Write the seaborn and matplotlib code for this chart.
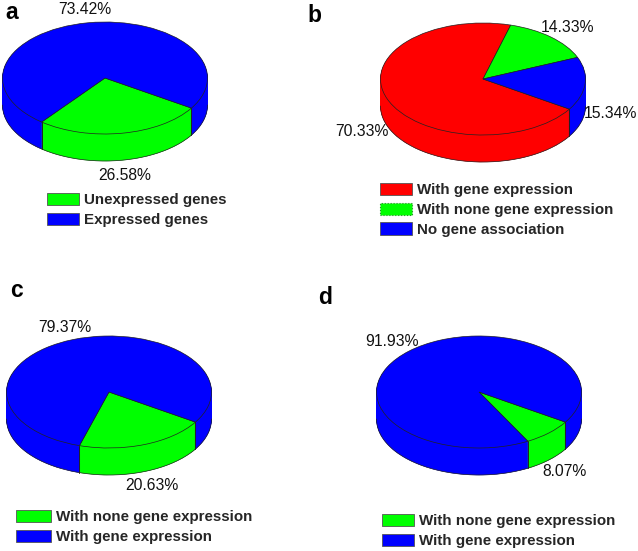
import numpy as np
import matplotlib
matplotlib.use("Agg")
import matplotlib.pyplot as plt
from matplotlib.patches import Patch
import seaborn as sns

# === data ===
values_a = [26.58, 73.42]
values_b = [70.33, 14.33, 15.34]
values_c = [20.63, 79.37]
values_d = [8.07, 91.93]

labels_a = ["Unexpressed genes", "Expressed genes"]
labels_b = ["With gene expression", "With none gene expression", "No gene association"]
labels_c = ["With none gene expression", "With gene expression"]
labels_d = ["With none gene expression", "With gene expression"]

pct_a = ["26.58%", "73.42%"]
pct_b = ["70.33%", "14.33%", "15.34%"]
pct_c = ["20.63%", "79.37%"]
pct_d = ["8.07%", "91.93%"]

RED, GREEN, BLUE = sns.color_palette(["#ff0000", "#00ff00", "#0000ff"])
W, H = 638, 551

sns.set_theme(style="white")
plt.rcParams["font.family"] = ["Liberation Sans", "DejaVu Sans"]

fig = plt.figure(figsize=(W / 100, H / 100), dpi=100, facecolor="white")


def px(x, y):
    return x / W, 1 - y / H


def pie3d(values, colors, cx, cy, rx=102.5, ry=56, depth=27, start=-32.5):
    # the axes is stretched so one data unit is rx wide and ry tall
    d = depth / ry
    left, bottom = px(cx - rx, cy + ry + depth)
    ax = fig.add_axes([left, bottom, 2 * rx / W, (2 * ry + depth) / H])
    # side wall: same pie stacked downwards
    for off in np.linspace(d, 0, 40)[:-1]:
        wedges, _ = ax.pie(values, colors=colors, startangle=start, counterclock=False,
                           center=(0, -off), radius=1, wedgeprops={"linewidth": 0.3})
        for w in wedges:
            w.set_edgecolor(w.get_facecolor())
    th = np.radians(np.linspace(180, 360, 200))
    ax.plot(np.cos(th), np.sin(th) - d, color="#222222", lw=0.5)
    top, _ = ax.pie(values, colors=colors, startangle=start, counterclock=False,
                    radius=1, wedgeprops={"linewidth": 0.5, "edgecolor": "#222222"})
    # vertical edges where slices meet on the front side
    for wedge in top:
        a = np.radians(wedge.theta1)
        if np.sin(a) < 0:
            ax.plot([np.cos(a)] * 2, [np.sin(a), np.sin(a) - d], color="#222222", lw=0.7, zorder=5)
    ax.set_aspect("auto")
    ax.set_xlim(-1, 1)
    ax.set_ylim(-1 - d, 1)
    ax.axis("off")
    for a_ in ax.lines + ax.patches:
        a_.set_clip_on(False)


def legend3d(labels, colors, x, y, dashed=None, hlen=2.12):
    handles = []
    for i, (lab, col) in enumerate(zip(labels, colors)):
        if i == dashed:
            handles.append(Patch(facecolor=col, edgecolor="#2a8a2a", linestyle=":", linewidth=0.8, label=lab))
        else:
            handles.append(Patch(facecolor=col, edgecolor="#555555", linewidth=0.6, label=lab))
    fig.legend(handles=handles, loc="upper left", bbox_to_anchor=px(x, y), frameon=False,
               prop={"family": "Liberation Sans", "weight": "bold", "size": 10.9},
               handlelength=hlen, handleheight=0.85, handletextpad=0.33,
               labelspacing=0.36, borderpad=0, borderaxespad=0)


def labels_at(texts, spots):
    for t, (x, y) in zip(texts, spots):
        fx, fy = px(x, y)
        fig.text(fx, fy, t, ha="center", va="center", fontsize=11.3, color="#111111")


pie3d(values_a, [GREEN, BLUE], 105, 78)
pie3d(values_b, [RED, GREEN, BLUE], 483, 79)
pie3d(values_c, [GREEN, BLUE], 109, 392)
pie3d(values_d, [GREEN, BLUE], 479, 392)

labels_at(pct_a, [(125, 175), (84.5, 9)])
labels_at(pct_b, [(362, 131), (568, 27), (610, 114)])
labels_at(pct_c, [(152, 486), (65, 327)])
labels_at(pct_d, [(564.5, 472), (392, 341)])

legend3d(labels_a, [GREEN, BLUE], 47, 193)
legend3d(labels_b, [RED, GREEN, BLUE], 380, 183, dashed=1)
legend3d(labels_c, [GREEN, BLUE], 16, 510, hlen=2.3)
legend3d(labels_d, [GREEN, BLUE], 382, 514)

for letter, (x, y) in zip("abcd", [(5, 19), (307, 22), (10, 297), (318, 304)]):
    fx, fy = px(x, y)
    fig.text(fx, fy, letter, ha="left", va="baseline", fontsize=16.5, fontweight="bold", color="black")

fig.savefig("out.png", dpi=100)
